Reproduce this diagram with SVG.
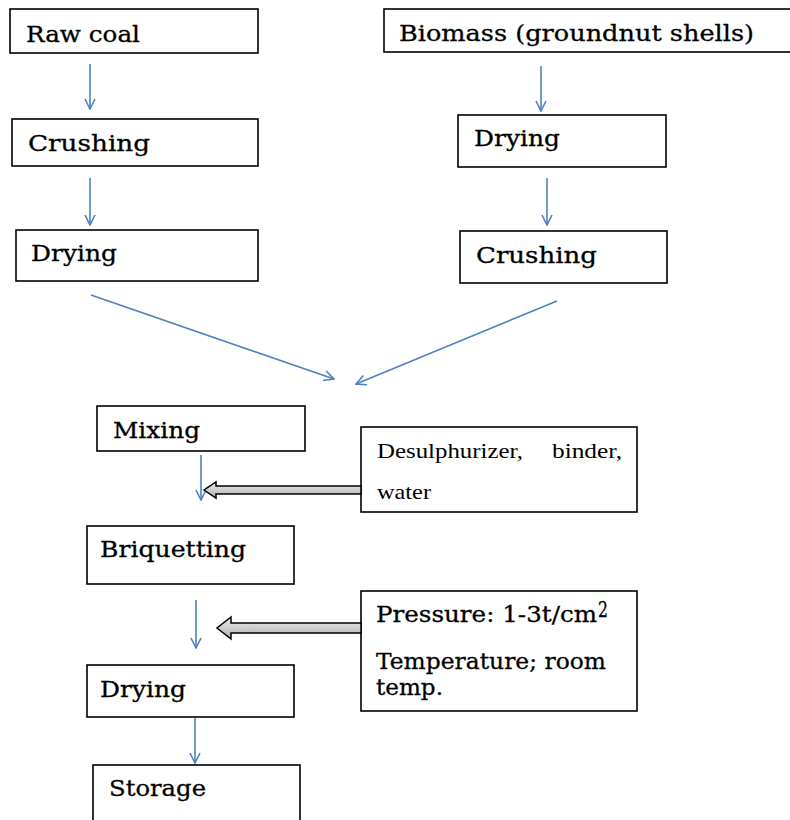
<svg xmlns="http://www.w3.org/2000/svg" width="790" height="820" viewBox="0 0 790 820">
<defs>
<style>
.box{fill:#fff;stroke:#000;stroke-width:1.6}
.t{font-family:"DejaVu Serif","Liberation Serif",serif;font-size:23px;fill:#000;stroke:#000;stroke-width:0.3}
.tn{font-family:"Liberation Serif",serif;font-size:21px;fill:#000}
.ar{stroke:#4F81BD;stroke-width:1.6;fill:none;marker-end:url(#h)}
.blk{fill:url(#g);stroke:#000;stroke-width:1.5;stroke-linejoin:miter}
</style>
<marker id="h" viewBox="0 0 12 12" refX="11" refY="6" markerWidth="12" markerHeight="12" markerUnits="userSpaceOnUse" orient="auto">
<path d="M1,1 L11,6 L1,11" fill="none" stroke="#4F81BD" stroke-width="1.6"/>
</marker>
<linearGradient id="g" x1="0" y1="0" x2="0" y2="1">
<stop offset="0" stop-color="#e8e8e8"/>
<stop offset="0.5" stop-color="#cfcfcf"/>
<stop offset="1" stop-color="#a8a8a8"/>
</linearGradient>
</defs>
<rect width="790" height="820" fill="#fff"/>
<g id="raw-coal"><rect class="box" x="10" y="9" width="248" height="44"/><text class="t" x="26" y="42" textLength="114" lengthAdjust="spacingAndGlyphs">Raw coal</text></g>
<g id="biomass"><rect class="box" x="384" y="9" width="412" height="43"/><text class="t" x="399" y="41" textLength="355" lengthAdjust="spacingAndGlyphs">Biomass (groundnut shells)</text></g>
<g id="crushing-left"><rect class="box" x="12" y="119" width="246" height="47"/><text class="t" x="28" y="151" textLength="122" lengthAdjust="spacingAndGlyphs">Crushing</text></g>
<g id="drying-left"><rect class="box" x="16" y="230" width="242" height="51"/><text class="t" x="31" y="261" textLength="86" lengthAdjust="spacingAndGlyphs">Drying</text></g>
<g id="drying-right"><rect class="box" x="458" y="115" width="208" height="52"/><text class="t" x="474" y="146" textLength="86" lengthAdjust="spacingAndGlyphs">Drying</text></g>
<g id="crushing-right"><rect class="box" x="460" y="231" width="207" height="52"/><text class="t" x="476" y="263" textLength="121" lengthAdjust="spacingAndGlyphs">Crushing</text></g>
<g id="mixing"><rect class="box" x="97" y="406" width="208" height="45"/><text class="t" x="113" y="438" textLength="87" lengthAdjust="spacingAndGlyphs">Mixing</text></g>
<g id="additives"><rect class="box" x="361" y="427" width="276" height="85"/><text class="tn" x="377" y="458" textLength="146" lengthAdjust="spacingAndGlyphs">Desulphurizer,</text><text class="tn" x="552" y="458" textLength="70" lengthAdjust="spacingAndGlyphs">binder,</text><text class="tn" x="377" y="499" textLength="54" lengthAdjust="spacingAndGlyphs">water</text></g>
<g id="briquetting"><rect class="box" x="87" y="526" width="207" height="58"/><text class="t" x="100" y="557" textLength="146" lengthAdjust="spacingAndGlyphs">Briquetting</text></g>
<g id="conditions"><rect class="box" x="361" y="591" width="276" height="120"/><text class="t" x="376" y="622" textLength="221" lengthAdjust="spacingAndGlyphs">Pressure: 1-3t/cm</text><text class="t" x="598" y="617" font-size="13" textLength="10" lengthAdjust="spacingAndGlyphs">2</text><text class="t" x="376" y="669" textLength="230" lengthAdjust="spacingAndGlyphs">Temperature; room</text><text class="t" x="376" y="695" textLength="67" lengthAdjust="spacingAndGlyphs">temp.</text></g>
<g id="drying-bottom"><rect class="box" x="87" y="665" width="207" height="52"/><text class="t" x="100" y="697" textLength="86" lengthAdjust="spacingAndGlyphs">Drying</text></g>
<g id="storage"><rect class="box" x="93" y="765" width="207" height="60"/><text class="t" x="109" y="796" textLength="97" lengthAdjust="spacingAndGlyphs">Storage</text></g>
<g id="connectors">
<line class="ar" x1="90" y1="64" x2="90" y2="109"/>
<line class="ar" x1="90" y1="178" x2="90" y2="225"/>
<line class="ar" x1="541" y1="66" x2="541" y2="111"/>
<line class="ar" x1="547" y1="178" x2="547" y2="225"/>
<line class="ar" x1="91" y1="295" x2="334" y2="379"/>
<line class="ar" x1="557" y1="301" x2="356" y2="384"/>
<line class="ar" x1="201" y1="455" x2="201" y2="500"/>
<line class="ar" x1="196" y1="600" x2="196" y2="648"/>
<line class="ar" x1="195" y1="718" x2="195" y2="763"/>
<polygon class="blk" points="361,486 216,486 216,482 204,490 216,498 216,494 361,494"/>
<polygon class="blk" points="361,623 231,623 231,617 217,628 231,639 231,633 361,633"/>
</g>
</svg>
